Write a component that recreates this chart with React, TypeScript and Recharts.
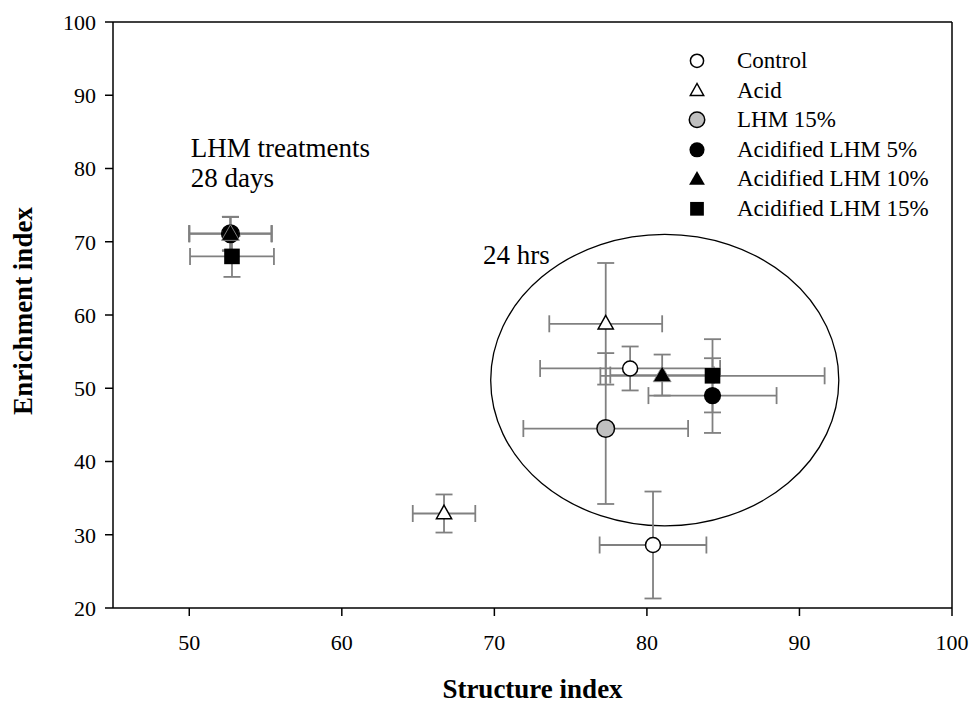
import {
  ErrorBar,
  ReferenceArea,
  ReferenceDot,
  ReferenceLine,
  Scatter,
  ScatterChart,
  XAxis,
  YAxis,
} from 'recharts'

type Pt = { x: number; y: number; ex: number; ey: number }
type Kind = 'openCircle' | 'openTriangle' | 'grayCircle' | 'blackCircle' | 'blackTriangle' | 'blackSquare'

// each array: [24 hrs, 28 days]
const control: Pt[] = [
  { x: 78.9, y: 52.7, ex: 5.9, ey: 3.0 },
  { x: 80.4, y: 28.6, ex: 3.5, ey: 7.3 },
]
const acid: Pt[] = [
  { x: 77.3, y: 58.8, ex: 3.7, ey: 8.3 },
  { x: 66.7, y: 32.9, ex: 2.05, ey: 2.6 },
]
const lhm15: Pt[] = [
  { x: 77.3, y: 44.5, ex: 5.4, ey: 10.3 },
  { x: 52.7, y: 71.1, ex: 2.7, ey: 2.3 },
]
const acidLhm5: Pt[] = [
  { x: 84.3, y: 49.0, ex: 4.2, ey: 5.1 },
  { x: 52.7, y: 71.1, ex: 2.7, ey: 2.3 },
]
const acidLhm10: Pt[] = [
  { x: 81.0, y: 51.8, ex: 3.4, ey: 2.8 },
  { x: 52.7, y: 71.1, ex: 2.7, ey: 2.3 },
]
const acidLhm15: Pt[] = [
  { x: 84.3, y: 51.7, ex: 7.35, ey: 5.0 },
  { x: 52.8, y: 68.0, ex: 2.75, ey: 2.8 },
]

const xTicks = [50, 60, 70, 80, 90, 100]
const yTicks = [20, 30, 40, 50, 60, 70, 80, 90, 100]

// 24 hrs ellipse bounds (data units)
const ellipseX = [69.76, 92.58]
const ellipseY = [31.2, 71.0]

const series: { name: string; kind: Kind; data: Pt[] }[] = [
  { name: 'Control', kind: 'openCircle', data: control },
  { name: 'Acid', kind: 'openTriangle', data: acid },
  { name: 'LHM 15%', kind: 'grayCircle', data: lhm15 },
  { name: 'Acidified LHM 5%', kind: 'blackCircle', data: acidLhm5 },
  { name: 'Acidified LHM 10%', kind: 'blackTriangle', data: acidLhm10 },
  { name: 'Acidified LHM 15%', kind: 'blackSquare', data: acidLhm15 },
]

const FONT = "'Liberation Serif', 'DejaVu Serif', serif"
const BAR = '#808080'

function Marker({ kind, cx, cy, s = 1 }: { kind: Kind; cx: number; cy: number; s?: number }) {
  switch (kind) {
    case 'openCircle':
      return <circle cx={cx} cy={cy} r={7.5 * s} fill="#fff" stroke="#000" strokeWidth={1.5} />
    case 'grayCircle':
      return <circle cx={cx} cy={cy} r={8.8 * s} fill="#c0c0c0" stroke="#000" strokeWidth={1.5} />
    case 'blackCircle':
      return <circle cx={cx} cy={cy} r={8.6 * s} fill="#000" />
    case 'openTriangle':
      return (
        <polygon
          points={`${cx},${cy - 8.3 * s} ${cx - 7.6 * s},${cy + 5.2 * s} ${cx + 7.6 * s},${cy + 5.2 * s}`}
          fill="#fff"
          stroke="#000"
          strokeWidth={1.5}
        />
      )
    case 'blackTriangle':
      return (
        <polygon
          points={`${cx},${cy - 9 * s} ${cx - 9 * s},${cy + 6.7 * s} ${cx + 9 * s},${cy + 6.7 * s}`}
          fill="#000"
          stroke={s === 1 ? '#9a9a9a' : 'none'}
          strokeWidth={0.8}
        />
      )
    case 'blackSquare':
      return <rect x={cx - 7.8 * s} y={cy - 7.8 * s} width={15.6 * s} height={15.6 * s} fill="#000" />
  }
}

const tickStyle = { fill: '#000', fontSize: 22, fontFamily: FONT }

export default function App() {
  return (
    <div style={{ position: 'absolute', left: 0, top: 0, width: 971, height: 704, background: '#fff' }}>
      <ScatterChart
        width={971}
        height={704}
        margin={{ top: 22, right: 19, bottom: 0, left: 0 }}
        style={{ fontFamily: FONT }}
      >
        <XAxis
          type="number"
          dataKey="x"
          domain={[45, 100]}
          ticks={xTicks}
          allowDataOverflow
          height={96}
          tick={tickStyle}
          tickSize={8}
          tickMargin={18}
          axisLine={{ stroke: '#000', strokeWidth: 1.5 }}
          tickLine={{ stroke: '#000', strokeWidth: 1.5 }}
          label={{
            content: (p: any) => (
              <text
                x={p.viewBox.x + p.viewBox.width / 2}
                y={p.viewBox.y + 90}
                textAnchor="middle"
                style={{ fontFamily: FONT, fontWeight: 700, fontSize: 27 }}
                fill="#000"
              >
                Structure index
              </text>
            ),
          }}
        />
        <YAxis
          type="number"
          dataKey="y"
          domain={[20, 100]}
          ticks={yTicks}
          allowDataOverflow
          width={113}
          tick={tickStyle}
          tickSize={8}
          tickMargin={9}
          axisLine={{ stroke: '#000', strokeWidth: 1.5 }}
          tickLine={{ stroke: '#000', strokeWidth: 1.5 }}
          label={{
            content: (p: any) => {
              const x = 23
              const y = p.viewBox.y + p.viewBox.height / 2 - 4
              return (
                <text
                  x={x}
                  y={y}
                  transform={`rotate(-90, ${x}, ${y})`}
                  textAnchor="middle"
                  dominantBaseline="central"
                  style={{ fontFamily: FONT, fontWeight: 700, fontSize: 27 }}
                  fill="#000"
                >
                  Enrichment index
                </text>
              )
            },
          }}
        />
        <ReferenceLine y={100} stroke="#000" strokeWidth={1.5} />
        <ReferenceLine x={100} stroke="#000" strokeWidth={1.5} />
        <ReferenceArea
          x1={ellipseX[0]}
          x2={ellipseX[1]}
          y1={ellipseY[0]}
          y2={ellipseY[1]}
          shape={(p: any) => (
            <ellipse
              cx={p.x + p.width / 2}
              cy={p.y + p.height / 2}
              rx={p.width / 2}
              ry={p.height / 2}
              fill="none"
              stroke="#000"
              strokeWidth={1.3}
            />
          )}
        />
        <ReferenceDot
          x={50.1}
          y={81.6}
          r={0}
          shape={(p: any) => (
            <text x={p.cx} y={p.cy} style={{ fontFamily: FONT, fontSize: 27 }} fill="#000">
              <tspan x={p.cx}>LHM treatments</tspan>
              <tspan x={p.cx} dy={30}>
                28 days
              </tspan>
            </text>
          )}
        />
        <ReferenceDot
          x={69.25}
          y={66.97}
          r={0}
          shape={(p: any) => (
            <text x={p.cx} y={p.cy} style={{ fontFamily: FONT, fontSize: 27 }} fill="#000">
              24 hrs
            </text>
          )}
        />
        {series.map((s) => (
          <Scatter
            key={`bars-${s.name}`}
            data={s.data}
            isAnimationActive={false}
            shape={() => <g />}
          >
            <ErrorBar dataKey="ex" direction="x" width={8.5} stroke={BAR} strokeWidth={1.8} />
            <ErrorBar dataKey="ey" direction="y" width={8.5} stroke={BAR} strokeWidth={1.8} />
          </Scatter>
        ))}
        {series.map((s) => (
          <Scatter
            key={`pts-${s.name}`}
            name={s.name}
            data={s.data}
            isAnimationActive={false}
            shape={(p: any) => <Marker kind={s.kind} cx={p.cx} cy={p.cy} />}
          />
        ))}
      </ScatterChart>
      <div
        style={{
          position: 'absolute',
          left: 680,
          top: 46,
          fontFamily: FONT,
          fontSize: 23,
          color: '#000',
        }}
      >
        {series.map((s) => (
          <div key={s.name} style={{ display: 'flex', alignItems: 'center', height: 29.6 }}>
            <svg width={34} height={29.6} style={{ display: 'block' }}>
              <Marker kind={s.kind} cx={17} cy={14.8} s={0.88} />
            </svg>
            <span style={{ marginLeft: 23, lineHeight: '29.6px', whiteSpace: 'nowrap' }}>{s.name}</span>
          </div>
        ))}
      </div>
    </div>
  )
}
